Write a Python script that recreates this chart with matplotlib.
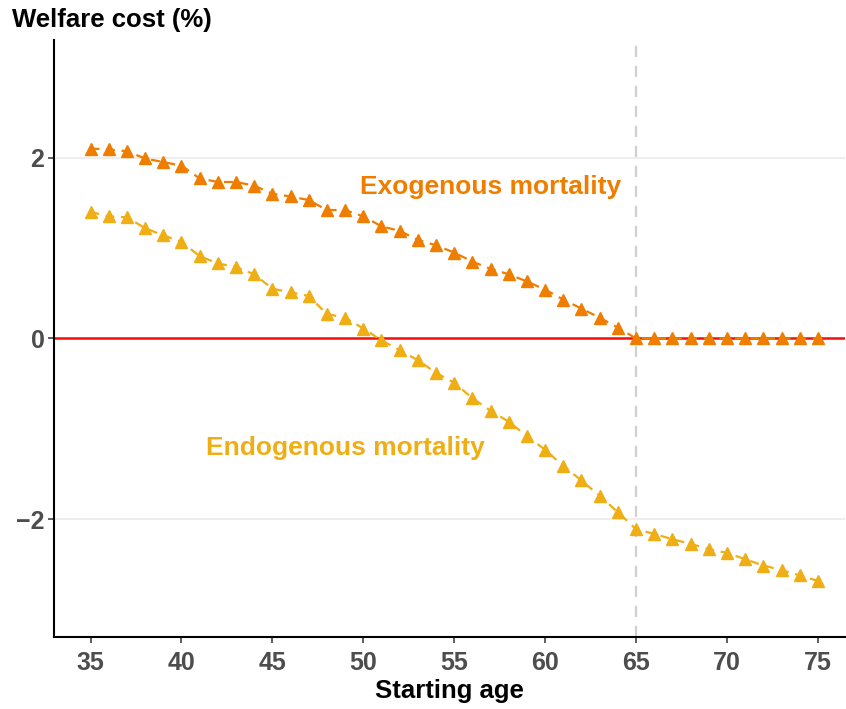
import matplotlib
matplotlib.use("Agg")
import matplotlib.pyplot as plt
import numpy as np

plt.rcParams['font.family'] = ['Liberation Sans', 'DejaVu Sans']

ages = np.arange(35, 76)

# welfare cost (%)
exogenous = [2.10, 2.09, 2.07, 1.99, 1.95, 1.91, 1.77, 1.73, 1.73, 1.69,
             1.60, 1.57, 1.53, 1.42, 1.42, 1.35, 1.24, 1.19, 1.09, 1.03,
             0.95, 0.85, 0.77, 0.71, 0.63, 0.54, 0.43, 0.33, 0.23, 0.12,
             0.0, 0.0, 0.0, 0.0, 0.0, 0.0, 0.0, 0.0, 0.0, 0.0, 0.0]
endogenous = [1.40, 1.35, 1.34, 1.22, 1.14, 1.07, 0.91, 0.83, 0.79, 0.71,
              0.55, 0.51, 0.47, 0.27, 0.23, 0.11, -0.02, -0.13, -0.24, -0.38,
              -0.49, -0.66, -0.80, -0.92, -1.08, -1.23, -1.41, -1.57, -1.74, -1.92,
              -2.11, -2.16, -2.22, -2.27, -2.33, -2.37, -2.44, -2.51, -2.56, -2.62, -2.68]

xticks = [35, 40, 45, 50, 55, 60, 65, 70, 75]
yticks = [-2, 0, 2]

col_exo = '#EE7D00'
col_endo = '#EFAE14'

fig = plt.figure(figsize=(8.46, 7.09), dpi=100)
ax = fig.add_axes([0.064, 0.1016, 0.935, 0.842])

for yv in yticks:
    ax.axhline(yv, color='#EBEBEB', lw=1.2, zorder=0)
ax.axvline(65, color='#D0D0D0', lw=1.6, ls=(0, (5, 4)), zorder=1)
ax.axhline(0, color='#F01010', lw=1.8, zorder=2)

ax.plot(ages, exogenous, color=col_exo, ls=(0, (4, 3)), lw=1.6,
        marker='^', markersize=9, zorder=3)
ax.plot(ages, endogenous, color=col_endo, ls=(0, (4, 3)), lw=1.6,
        marker='^', markersize=9, zorder=3)

ax.text(57.0, 1.68, 'Exogenous mortality', color=col_exo, fontsize=19,
        fontweight='bold', ha='center', va='center')
ax.text(49.0, -1.21, 'Endogenous mortality', color=col_endo, fontsize=19,
        fontweight='bold', ha='center', va='center')

ax.set_xlim(33, 76.5)
ax.set_ylim(-3.3, 3.3)
ax.set_xticks(xticks)
ax.set_yticks(yticks)
ax.set_yticklabels(['\u22122', '0', '2'])

for s in ['top', 'right']:
    ax.spines[s].set_visible(False)
for s in ['left', 'bottom']:
    ax.spines[s].set_color('black')
    ax.spines[s].set_linewidth(1.5)

ax.tick_params(axis='both', direction='out', length=4, width=1.1,
               color='#333333', labelcolor='#4D4D4D', labelsize=18, pad=3)
ax.tick_params(axis='x', pad=6)
for lab in ax.get_xticklabels() + ax.get_yticklabels():
    lab.set_fontweight('bold')

ax.set_xlabel('Starting age', fontsize=18.5, fontweight='bold', labelpad=3)
fig.text(0.014, 0.972, 'Welfare cost (%)', fontsize=18.5, fontweight='bold',
         ha='left', va='center')

fig.savefig('out.png', dpi=100)
